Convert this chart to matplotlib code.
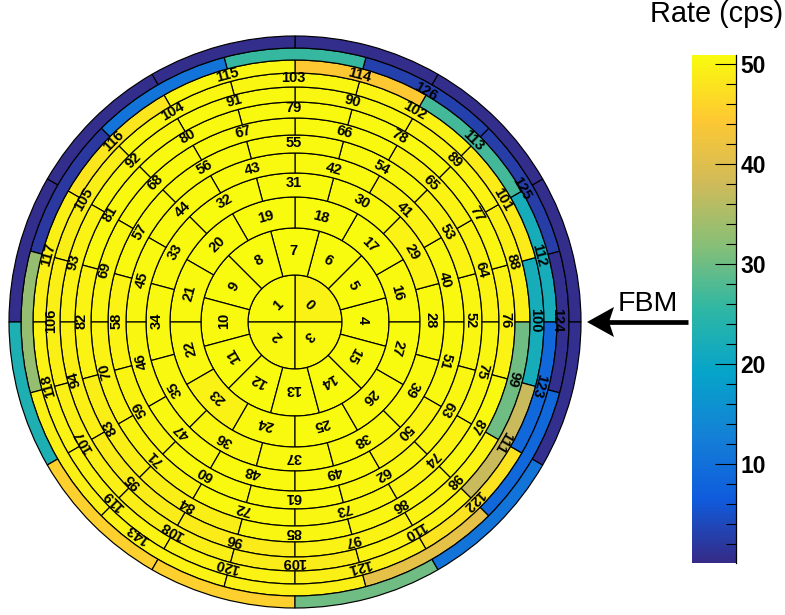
import numpy as np
import matplotlib
matplotlib.use("Agg")
import matplotlib.pyplot as plt
from matplotlib.cm import ScalarMappable
from matplotlib.colors import LinearSegmentedColormap, Normalize
from matplotlib.patches import Polygon
from matplotlib.ticker import MultipleLocator
from matplotlib.transforms import ScaledTranslation

plt.rcParams['font.family'] = ['Liberation Sans', 'DejaVu Sans']

# ring edges (radial coordinate), innermost to outermost
ring_edges = [0, 47, 94, 125, 149, 169, 187, 204, 220, 235, 249, 262, 274, 286]
# radial position of the cell numbers in each ring
label_radii = [22, 69, 107, 137, 157, 177, 195, 212, 227, 242, 254, 264]
# centre angle of the first cell in each ring
first_angles = [45, 0, 15, 0, 15, 0, 15, 0, 15, 0, 15, 0, 15]

rate_0 = [49.7, 50.9, 50.5, 50.7]
rate_1 = [50.9, 50.8, 50.9, 50.9, 50.9, 50.8, 50.7, 50.8, 50.8, 50.9, 50.9, 50.9]
rate_2 = [50.7, 50.9, 50.9, 50.9, 50.9, 50.7, 50.4, 49.6, 50.7, 50.9, 50.7, 50.9]
rate_3 = [50.7, 49.8, 50.7, 50.8, 50.8, 50.7, 50.5, 50.5, 50.3, 50.7, 50.7, 50.7]
rate_4 = [50.5, 49.9, 50.7, 50.7, 50.7, 50.5, 50.3, 50.4, 50.7, 50.7, 49.9, 50.7]
rate_5 = [50.3, 49.9, 50.5, 50.7, 50.7, 50.7, 49.9, 50.1, 50.7, 50.7, 50.3, 50.3]
rate_6 = [49.9, 49.9, 50.7, 50.7, 50.7, 50.3, 49.8, 50.1, 50.7, 50.3, 49.9, 50.3]
rate_7 = [49.9, 50.2, 50.5, 50.7, 50.7, 50.7, 49.9, 49.2, 49.3, 50.2, 50.2, 50.4]
rate_8 = [49.5, 49.9, 50.3, 50.7, 50.3, 49.9, 49.5, 49.0, 48.9, 49.7, 49.9, 30.0]
rate_9 = [22.0, 48.9, 49.9, 50.3, 50.3, 49.2, 49.4, 49.5, 49.2, 49.0, 49.9, 37.5]
rate_10 = [22.0, 27.0, 44.5, 50.3, 48.2, 49.4, 49.9, 49.9, 49.8, 49.5, 47.8, 8.5]
rate_11 = [0.8, 2.5, 3.0, 26.0, 10.5, 2.0, 33.0, 49.4, 49.8, 49.4, 41.0, 8.5]
rate_12 = [0.5, 0.5, 0.5, 0.5, 0.5, 0.5, 23.0, 45.5, 45.5, 30.0, 10.5, 0.8]
rates = [rate_0, rate_1, rate_2, rate_3, rate_4, rate_5, rate_6,
         rate_7, rate_8, rate_9, rate_10, rate_11, rate_12]

# numbers that are not written in sequence: outer ring carries only these
outer_labels = ['124', '125', '126', '143']
outer_label_angles = [0, 30, 60, 234]

bar_ticks = [10, 20, 30, 40, 50]
bar_min, bar_max = 0.1, 50.9

red = [0.2082, 0.0592, 0.0780, 0.0232, 0.1802, 0.5301, 0.8186, 0.9956, 0.9764]
green = [0.1664, 0.3599, 0.5041, 0.6419, 0.7178, 0.7492, 0.7328, 0.7862, 0.9832]
blue = [0.5293, 0.8684, 0.8385, 0.7914, 0.6425, 0.4662, 0.3499, 0.1968, 0.0539]
cmap = LinearSegmentedColormap.from_list('bird', list(zip(red, green, blue)), N=255)
norm = Normalize(bar_min, bar_max)

W, H = 785, 615
fig = plt.figure(figsize=(W / 100, H / 100), dpi=100)

cx, cy, rmax = 295, 322, 290
ax = fig.add_axes([(cx - rmax) / W, (H - cy - rmax) / H, 2 * rmax / W, 2 * rmax / H],
                  projection='polar')
ax.set_ylim(0, rmax)
ax.axis('off')

text_tf = ax.transData + ScaledTranslation(-1.5 / 100, 1.5 / 100, fig.dpi_scale_trans)
LABEL = dict(ha='center', va='center', fontsize=10.5, fontweight='bold', color='black',
             rotation_mode='anchor', transform=text_tf, clip_on=False, zorder=5)

number = 0
for i, vals in enumerate(rates):
    n = len(vals)
    step = 360 / n
    ang = first_angles[i] + step * np.arange(n)
    ax.bar(np.radians(ang), ring_edges[i + 1] - ring_edges[i], width=np.radians(step),
           bottom=ring_edges[i], color=cmap(norm(np.array(vals))),
           edgecolor='black', linewidth=0.85, align='center')
    if i <= 10:
        for a in ang:
            ax.text(np.radians(a), label_radii[i], str(number),
                    rotation=(a - 90) % 360, **LABEL)
            number += 1

for s, a in zip(outer_labels, outer_label_angles):
    ax.text(np.radians(a), label_radii[11], s, rotation=(a - 90) % 360, **LABEL)

# colour bar
cax = fig.add_axes([692 / W, (H - 563) / H, 44 / W, 508 / H])
cbar = fig.colorbar(ScalarMappable(norm=norm, cmap=cmap), cax=cax, ticks=bar_ticks)
cbar.outline.set_visible(False)
cax.spines['right'].set_visible(True)
cax.spines['right'].set_linewidth(0.9)
cax.yaxis.set_minor_locator(MultipleLocator(2))
cax.tick_params(axis='y', which='major', direction='in', length=15, width=0.8,
                labelsize=16.5, pad=3)
cax.tick_params(axis='y', which='minor', direction='in', length=7.3, width=0.8)
for t in cax.get_yticklabels():
    t.set_fontweight('bold')

# overlay in pixel coordinates for annotations
ov = fig.add_axes([0, 0, 1, 1], facecolor='none')
ov.set_xlim(0, W)
ov.set_ylim(H, 0)
ov.axis('off')
ov.text(716.5, 13.5, 'Rate (cps)', ha='center', va='center', fontsize=20.8)
ov.text(647.5, 304, 'FBM', ha='center', va='center', fontsize=20.5)
ov.plot([608, 688], [322, 322], color='black', lw=3.4, solid_capstyle='butt')
ov.add_patch(Polygon([[587, 322], [614, 307], [609, 322], [614, 337]], closed=True,
                     facecolor='black', edgecolor='none'))

fig.savefig('out.png', dpi=100)
